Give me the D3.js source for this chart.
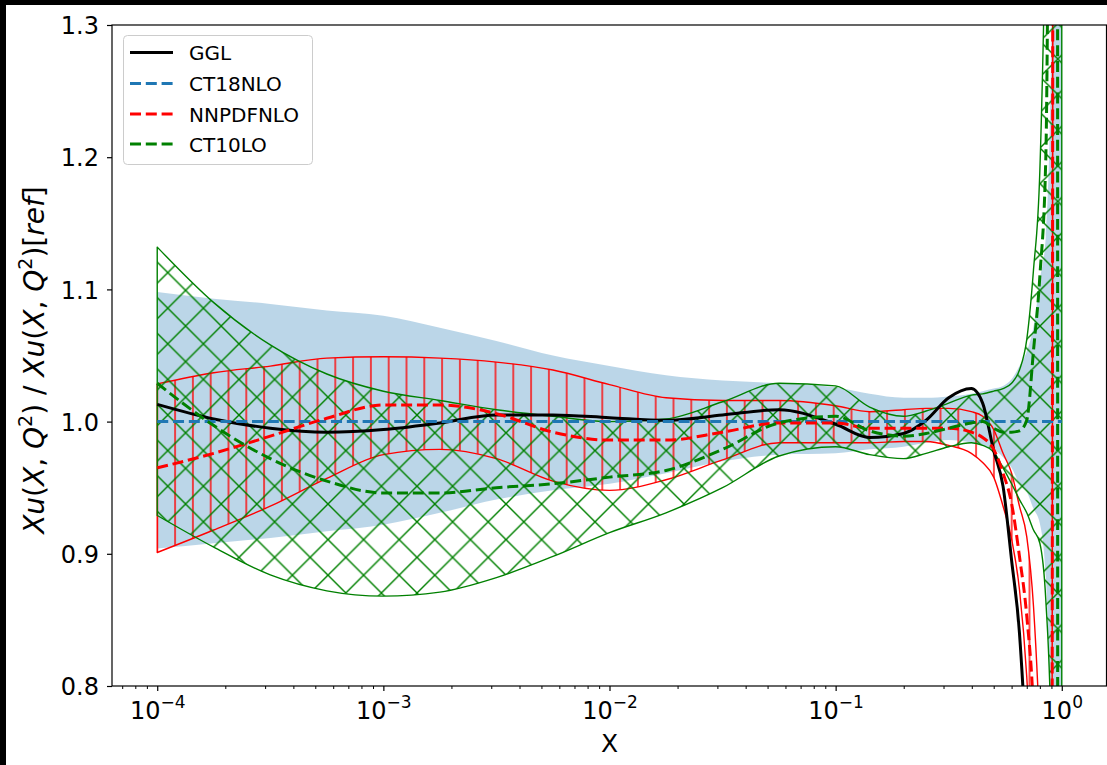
<!DOCTYPE html>
<html>
<head>
<meta charset="utf-8">
<script src="https://cdn.jsdelivr.net/npm/d3@7/dist/d3.min.js"></script>
<style>
  html, body { margin: 0; padding: 0; background: #000; }
  svg { display: block; }
  text { font-family: "DejaVu Sans", sans-serif; fill: #000; }
</style>
</head>
<body>
<svg id="chart" width="1107" height="765"></svg>
<script>
// x grid shared by every curve
const xValues = [1e-4, 1.778e-4, 3.162e-4, 5.623e-4, 1e-3, 1.778e-3, 3.162e-3, 5.623e-3,
  1e-2, 1.778e-2, 3.162e-2, 5.623e-2, 0.1, 0.1413, 0.1995, 0.2512, 0.3162, 0.3981, 0.4467,
  0.5, 0.55, 0.6, 0.65, 0.7, 0.75, 0.8, 0.85, 0.9, 0.93, 0.95, 0.97, 1.0];

// GGL ratio
const ggl = [1.013, 1.002, 0.995, 0.992, 0.994, 0.999, 1.005, 1.005, 1.003, 1.001, 1.005, 1.009,
  0.998, 0.988, 0.991, 1.001, 1.018, 1.025, 1.014, 0.978, 0.951, 0.895, 0.84, 0.74, 0.6, 0.45,
  0.35, 0.3, 0.25, 0.2, 0.15, 0.1];

// CT18NLO (reference) central value and uncertainty band
const ct18 = [1, 1, 1, 1, 1, 1, 1, 1, 1, 1, 1, 1, 1, 1, 1, 1, 1, 1, 1, 1, 1, 1, 1, 1, 1, 1, 1, 1, 1, 1, 1, 1];
const ct18Upper = [1.098, 1.093, 1.089, 1.084, 1.080, 1.071, 1.061, 1.050, 1.042, 1.035, 1.031, 1.029,
  1.026, 1.021, 1.018, 1.018, 1.019, 1.021, 1.023, 1.025, 1.027, 1.032, 1.042, 1.053, 1.072, 1.107,
  1.14, 1.29, 1.8, 3, 5, 8];
const ct18Lower = [0.904, 0.908, 0.912, 0.917, 0.922, 0.931, 0.941, 0.948, 0.953, 0.961, 0.970, 0.975,
  0.976, 0.979, 0.981, 0.984, 0.986, 0.984, 0.982, 0.979, 0.973, 0.965, 0.953, 0.947, 0.934, 0.923,
  0.883, 0.7, 0.3, -1, -3, -5];

// NNPDFNLO central value and band
const nnpdf = [0.965, 0.976, 0.989, 1.0025, 1.0126, 1.0126, 1.006, 0.992, 0.986, 0.986, 0.992, 0.999,
  0.999, 0.995, 0.995, 0.995, 0.995, 0.992, 0.988, 0.979, 0.961, 0.938, 0.898, 0.853, 0.78, 0.62,
  0.52, 0.45, 2.8, 2.8, 2.8, 2.8];
const nnpdfUpper = [1.0285, 1.037, 1.042, 1.048, 1.049, 1.048, 1.045, 1.039, 1.028, 1.018, 1.016, 1.016,
  1.012, 1.0075, 1.009, 1.010, 1.010, 1.0075, 1.004, 0.994, 0.976, 0.961, 0.936, 0.913, 0.86, 0.76,
  0.6, 0.5, 3, 3, 3, 3];
const nnpdfLower = [0.901, 0.918, 0.936, 0.957, 0.975, 0.979, 0.972, 0.955, 0.948, 0.956, 0.971, 0.984,
  0.984, 0.984, 0.985, 0.985, 0.982, 0.976, 0.969, 0.958, 0.936, 0.911, 0.873, 0.807, 0.7, 0.55,
  0.45, 0.4, 2.5, 2.5, 2.5, 2.5];

// CT10LO central value and band
const ct10 = [1.029, 0.997, 0.972, 0.955, 0.946, 0.946, 0.950, 0.953, 0.958, 0.963, 0.979, 0.999,
  1.004, 0.993, 0.989, 0.991, 0.995, 0.999, 1.0, 0.995, 0.992, 0.992, 0.993, 1.001, 1.054, 1.11,
  1.2, 2.0, 3, 5, -5, -5];
const ct10Upper = [1.132, 1.09, 1.058, 1.036, 1.023, 1.016, 1.009, 1.004, 1.0, 1.002, 1.015, 1.029,
  1.027, 1.011, 1.004, 1.008, 1.014, 1.020, 1.021, 1.023, 1.025, 1.029, 1.039, 1.062, 1.115, 1.19,
  1.4, 1.8, 3, 4, 5, 6];
const ct10Lower = [0.929, 0.905, 0.884, 0.872, 0.868, 0.871, 0.882, 0.898, 0.916, 0.931, 0.950, 0.974,
  0.981, 0.975, 0.972, 0.976, 0.981, 0.984, 0.982, 0.977, 0.965, 0.953, 0.941, 0.931, 0.918, 0.908,
  0.865, 0.75, 0.4, -1, -3, -5];

const yTicks = [0.8, 0.9, 1.0, 1.1, 1.2, 1.3];
const yTickLabels = ["0.8", "0.9", "1.0", "1.1", "1.2", "1.3"];
const xTicks = [1e-4, 1e-3, 1e-2, 1e-1, 1];
const xTickExponents = ["−4", "−3", "−2", "−1", "0"];
const legendNames = ["GGL", "CT18NLO", "NNPDFNLO", "CT10LO"];

const W = 1107, H = 765;
const plot = { left: 112, right: 1107, top: 25, bottom: 686 };

const svg = d3.select("#chart");

// figure background with the dark frame on the top and left edges
svg.append("rect").attr("x", 0).attr("y", 0).attr("width", W).attr("height", H).attr("fill", "#000");
svg.append("rect").attr("x", 6).attr("y", 5).attr("width", W - 6).attr("height", H - 5).attr("fill", "#fff");

const x = d3.scaleLog().domain([Math.pow(10, -4.2), Math.pow(10, 0.2)]).range([plot.left, plot.right]);
const y = d3.scaleLinear().domain([0.8, 1.3]).range([plot.bottom, plot.top]);

const defs = svg.append("defs");
defs.append("clipPath").attr("id", "plotClip")
  .append("rect").attr("x", plot.left).attr("y", plot.top)
  .attr("width", plot.right - plot.left).attr("height", plot.bottom - plot.top);

// vertical line hatch
const vStep = 17.8;
const vPat = defs.append("pattern").attr("id", "hatchV").attr("patternUnits", "userSpaceOnUse")
  .attr("x", 157.3 - vStep / 2).attr("y", 0).attr("width", vStep).attr("height", vStep);
vPat.append("line").attr("x1", vStep / 2).attr("x2", vStep / 2).attr("y1", -1).attr("y2", vStep + 1)
  .attr("stroke", "red").attr("stroke-width", 1.4);

// cross hatch
const xStep = 35.6;
const xPat = defs.append("pattern").attr("id", "hatchX").attr("patternUnits", "userSpaceOnUse")
  .attr("x", 417 - xStep / 2).attr("y", 593 - xStep / 2).attr("width", xStep).attr("height", xStep);
xPat.append("path").attr("d", `M-2,-2L${xStep + 2},${xStep + 2}M-2,${xStep + 2}L${xStep + 2},-2`)
  .attr("stroke", "green").attr("stroke-width", 1.4).attr("fill", "none");

const rows = xValues.map((xv, i) => ({
  x: xv, ggl: ggl[i], ct18: ct18[i], ct18Upper: ct18Upper[i], ct18Lower: ct18Lower[i],
  nnpdf: nnpdf[i], nnpdfUpper: nnpdfUpper[i], nnpdfLower: nnpdfLower[i],
  ct10: ct10[i], ct10Upper: ct10Upper[i], ct10Lower: ct10Lower[i]
}));

const band = (lo, hi) => d3.area().x(d => x(d.x)).y0(d => y(d[lo])).y1(d => y(d[hi])).curve(d3.curveMonotoneX);
const curve = key => d3.line().x(d => x(d.x)).y(d => y(d[key])).curve(d3.curveMonotoneX);

const g = svg.append("g").attr("clip-path", "url(#plotClip)");

// CT18NLO band
g.append("path").attr("d", band("ct18Lower", "ct18Upper")(rows))
  .attr("fill", "#1f77b4").attr("fill-opacity", 0.3).attr("stroke", "none");

// NNPDFNLO band
g.append("path").attr("d", band("nnpdfLower", "nnpdfUpper")(rows))
  .attr("fill", "url(#hatchV)").attr("stroke", "red").attr("stroke-width", 1.4)
  .attr("stroke-linejoin", "round");

// CT10LO band
g.append("path").attr("d", band("ct10Lower", "ct10Upper")(rows) + "Z")
  .attr("fill", "url(#hatchX)").attr("stroke", "green").attr("stroke-width", 1.4)
  .attr("stroke-linejoin", "round");

const series = [
  { key: "ggl", color: "#000000", dash: null },
  { key: "ct18", color: "#1f77b4", dash: "11,4.8" },
  { key: "nnpdf", color: "#ff0000", dash: "11,4.8" },
  { key: "ct10", color: "#008000", dash: "11,4.8" }
];

series.forEach(s => {
  g.append("path").attr("d", curve(s.key)(rows))
    .attr("fill", "none").attr("stroke", s.color).attr("stroke-width", 3)
    .attr("stroke-dasharray", s.dash).attr("stroke-linejoin", "round");
});

// axes
const yAxis = d3.axisLeft(y).tickValues(yTicks).tickSize(5).tickPadding(8)
  .tickFormat((d, i) => yTickLabels[i]);
const yg = svg.append("g").attr("transform", `translate(${plot.left},0)`).call(yAxis);
yg.select(".domain").remove();
yg.selectAll(".tick line").attr("stroke", "#000").attr("stroke-width", 1.2);
yg.selectAll(".tick text").attr("font-size", 24).attr("font-family", "DejaVu Sans").attr("dy", "0.36em");

const minorTicks = [];
for (let e = -5; e <= 0; e++) {
  for (let m = 2; m <= 9; m++) {
    const v = m * Math.pow(10, e);
    if (v >= x.domain()[0] && v <= x.domain()[1]) minorTicks.push(v);
  }
}
const xMinor = d3.axisBottom(x).tickValues(minorTicks).tickSize(3).tickFormat("");
const xmg = svg.append("g").attr("transform", `translate(0,${plot.bottom})`).call(xMinor);
xmg.select(".domain").remove();
xmg.selectAll(".tick line").attr("stroke", "#000").attr("stroke-width", 1);

const xAxis = d3.axisBottom(x).tickValues(xTicks).tickSize(5).tickFormat("");
const xg = svg.append("g").attr("transform", `translate(0,${plot.bottom})`).call(xAxis);
xg.select(".domain").remove();
xg.selectAll(".tick line").attr("stroke", "#000").attr("stroke-width", 1.2);
xg.selectAll(".tick").each(function (d, i) {
  const t = d3.select(this).append("text")
    .attr("y", 33).attr("text-anchor", "middle").attr("fill", "#000")
    .attr("font-family", "DejaVu Sans");
  t.append("tspan").attr("font-size", 24).text("10");
  t.append("tspan").attr("font-size", 17).attr("dy", -11).text(xTickExponents[i]);
});

// spines
svg.append("rect").attr("x", plot.left).attr("y", plot.top)
  .attr("width", plot.right - plot.left - 0.5).attr("height", plot.bottom - plot.top)
  .attr("fill", "none").attr("stroke", "#000").attr("stroke-width", 1.2);

// axis titles
svg.append("text").attr("x", (plot.left + plot.right) / 2).attr("y", 752)
  .attr("text-anchor", "middle").attr("font-size", 25).text("X");

const yl = svg.append("text").attr("transform", "translate(44,360) rotate(-90)")
  .attr("text-anchor", "middle").attr("font-size", 28);
const ylParts = [
  ["Xu", "it"], ["(", ""], ["X", "it"], [", ", ""], ["Q", "it"], ["2", "sup"], [")", "base"],
  [" / ", ""],
  ["Xu", "it"], ["(", ""], ["X", "it"], [", ", ""], ["Q", "it"], ["2", "sup"], [")", "base"],
  ["[", ""], ["ref", "it"], ["]", ""]
];
ylParts.forEach(([txt, kind]) => {
  const ts = yl.append("tspan").text(txt);
  if (kind === "it") ts.attr("font-style", "italic");
  if (kind === "sup") ts.attr("font-size", 19).attr("dy", -12);
  if (kind === "base") ts.attr("dy", 12);
});

// legend
const lg = svg.append("g");
lg.append("rect").attr("x", 123.5).attr("y", 35.5).attr("width", 189).attr("height", 129)
  .attr("rx", 4).attr("fill", "#fff").attr("fill-opacity", 0.8)
  .attr("stroke", "#cccccc").attr("stroke-width", 1);
const legendY = [52.5, 83.5, 114, 144];
series.forEach((s, i) => {
  lg.append("line").attr("x1", 130).attr("x2", 173).attr("y1", legendY[i]).attr("y2", legendY[i])
    .attr("stroke", s.color).attr("stroke-width", 3).attr("stroke-dasharray", s.dash);
  lg.append("text").attr("x", 189).attr("y", legendY[i] + 7.8).attr("font-size", 20).text(legendNames[i]);
});
</script>
</body>
</html>
